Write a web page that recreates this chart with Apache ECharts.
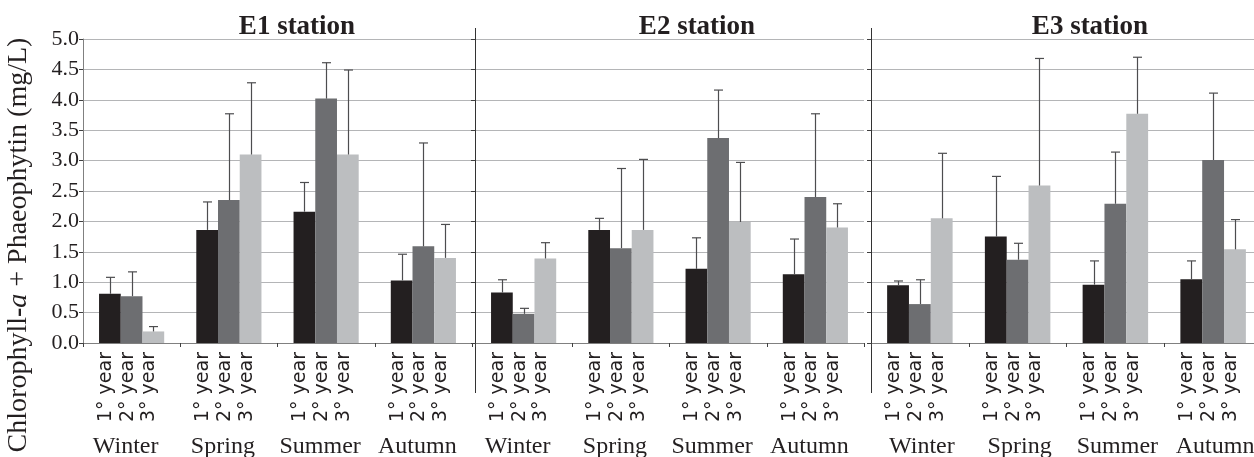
<!DOCTYPE html>
<html>
<head>
<meta charset="utf-8">
<script src="https://cdn.jsdelivr.net/npm/echarts@6/dist/echarts.min.js"></script>
<style>html,body{margin:0;padding:0;background:#fff;}#c{width:1254px;height:457px;}</style>
</head>
<body>
<div id="c"></div>
<script>
// ---- data ----
const seasons = ['Winter', 'Spring', 'Summer', 'Autumn'];
const yearNames = ['1° year', '2° year', '3° year'];
const stations = ['E1 station', 'E2 station', 'E3 station'];
const yTicks = [0, 0.5, 1, 1.5, 2, 2.5, 3, 3.5, 4, 4.5, 5];

// mean values (mg/L) per station, per year, per season
const e1Year1 = [0.81, 1.86, 2.16, 1.03];
const e1Year2 = [0.77, 2.35, 4.02, 1.59];
const e1Year3 = [0.19, 3.10, 3.10, 1.40];
const e2Year1 = [0.83, 1.86, 1.22, 1.13];
const e2Year2 = [0.48, 1.56, 3.37, 2.40];
const e2Year3 = [1.39, 1.86, 1.99, 1.90];
const e3Year1 = [0.95, 1.75, 0.96, 1.05];
const e3Year2 = [0.64, 1.37, 2.29, 3.01];
const e3Year3 = [2.05, 2.59, 3.77, 1.54];

// standard deviations (upper error bars)
const e1Sd1 = [0.27, 0.46, 0.48, 0.43];
const e1Sd2 = [0.40, 1.42, 0.59, 1.70];
const e1Sd3 = [0.08, 1.18, 1.39, 0.55];
const e2Sd1 = [0.21, 0.19, 0.51, 0.58];
const e2Sd2 = [0.09, 1.31, 0.79, 1.37];
const e2Sd3 = [0.26, 1.16, 0.98, 0.39];
const e3Sd1 = [0.07, 0.99, 0.39, 0.30];
const e3Sd2 = [0.40, 0.27, 0.85, 1.10];
const e3Sd3 = [1.07, 2.09, 0.93, 0.49];

// ---- layout/styles ----
const means = [[e1Year1, e1Year2, e1Year3], [e2Year1, e2Year2, e2Year3], [e3Year1, e3Year2, e3Year3]];
const sds = [[e1Sd1, e1Sd2, e1Sd3], [e2Sd1, e2Sd2, e2Sd3], [e3Sd1, e3Sd2, e3Sd3]];
const barColors = ['#231f20', '#6d6e71', '#bcbec0'];
const errColor = '#4d4d4f';
const panelLeft = [83, 475, 871];
const panelWidth = [389, 389, 391];
const titleX = [292, 692, 1085];
const seasonPad = [[0, 12, 0, 0], [0, 12, 0, 0], [0, 0, 0, 4]];
const GAP = 0.33;
const serif = 'Liberation Serif';
const sans = 'DejaVu Sans';

const grids = [], xAxes = [], yAxes = [], series = [], titles = [];
for (let p = 0; p < 3; p++) {
  grids.push({
    left: panelLeft[p], width: panelWidth[p], top: 39, height: 304,
    containLabel: false, outerBoundsMode: 'none'
  });
  titles.push({
    text: stations[p], left: titleX[p], top: 9, textAlign: 'center',
    textStyle: { fontFamily: serif, fontWeight: 'bold', fontSize: 27, color: '#231f20' }
  });
  xAxes.push({
    type: 'category', gridIndex: p, data: seasons,
    axisLine: { show: true, lineStyle: { color: '#808080', width: 1 } },
    axisTick: { show: true, length: 4, lineStyle: { color: '#404040' } },
    axisLabel: {
      interval: 0, margin: 92, fontFamily: serif, fontSize: 24, color: '#231f20',
      padding: seasonPad[p]
    },
    splitLine: { show: false }
  });
  yAxes.push({
    type: 'value', gridIndex: p, min: 0, max: 5, interval: 0.5,
    axisLine: { show: true, lineStyle: { color: p === 0 ? '#808080' : '#333333', width: 1 } },
    axisTick: { show: true, length: 4, lineStyle: { color: '#404040' } },
    axisLabel: {
      show: p === 0, margin: 4, fontFamily: serif, fontSize: 22, color: '#231f20',
      formatter: v => (yTicks.includes(v) ? v.toFixed(1) : '')
    },
    splitLine: { show: true, lineStyle: { color: '#b4b5b7', width: 1.2 } }
  });
  for (let k = 0; k < 3; k++) {
    series.push({
      type: 'bar', name: yearNames[k], xAxisIndex: p, yAxisIndex: p,
      data: means[p][k], barGap: '0%', barCategoryGap: (GAP * 100) + '%',
      itemStyle: { color: barColors[k] },
      label: {
        show: true, position: 'bottom', distance: 9, rotate: 90,
        align: 'right', verticalAlign: 'middle', offset: [0, -4],
        formatter: yearNames[k], fontFamily: sans, fontSize: 19, color: '#231f20'
      },
      silent: true
    });
  }
  for (let k = 0; k < 3; k++) {
    const kk = k;
    series.push({
      type: 'custom', xAxisIndex: p, yAxisIndex: p, z: 5, silent: true,
      data: seasons.map((s, i) => [i, means[p][k][i], sds[p][k][i]]),
      renderItem: function (params, api) {
        const cat = api.value(0), m = api.value(1), sd = api.value(2);
        const base = api.coord([cat, m]);
        const top = api.coord([cat, m + sd]);
        const band = api.size([1, 0])[0];
        const group = band * (1 - GAP);
        const bw = group / 3;
        const cx = Math.round(base[0] - group / 2 + bw * (kk + 0.5)) + 0.5;
        const st = { stroke: errColor, lineWidth: 1.2 };
        return {
          type: 'group', children: [
            { type: 'line', shape: { x1: cx, y1: base[1], x2: cx, y2: top[1] }, style: st },
            { type: 'line', shape: { x1: cx - 4.5, y1: top[1], x2: cx + 4.5, y2: top[1] }, style: st }
          ]
        };
      }
    });
  }
}

const chart = echarts.init(document.getElementById('c'));
chart.setOption({
  animation: false,
  backgroundColor: '#ffffff',
  title: titles,
  grid: grids,
  xAxis: xAxes,
  yAxis: yAxes,
  series: series,
  graphic: [
    { type: 'line', shape: { x1: 475.5, y1: 28, x2: 475.5, y2: 393 }, style: { stroke: '#333', lineWidth: 1 } },
    { type: 'line', shape: { x1: 871.5, y1: 28, x2: 871.5, y2: 393 }, style: { stroke: '#333', lineWidth: 1 } },
    {
      type: 'text', x: 19, y: 245, rotation: Math.PI / 2,
      style: {
        text: '{n|Chlorophyll}{b|-}{i|a}{n| + Phaeophytin (mg/L)}',
        align: 'center', verticalAlign: 'middle',
        rich: {
          n: { fontFamily: serif, fontSize: 28, fill: '#231f20' },
          b: { fontFamily: serif, fontSize: 28, fontWeight: 'bold', fill: '#231f20' },
          i: { fontFamily: serif, fontSize: 28, fontStyle: 'italic', fill: '#231f20' }
        }
      }
    }
  ]
});
</script>
</body>
</html>
